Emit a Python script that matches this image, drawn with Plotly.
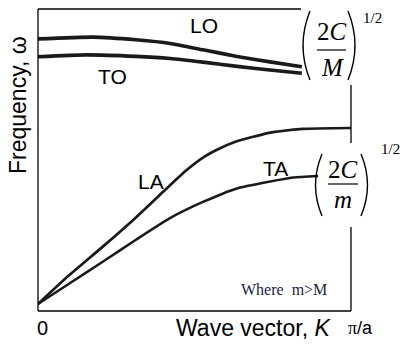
import plotly.graph_objects as go

# ---- data (K in units of pi/a, omega in relative units) ----
k_lo = [0.0, 0.176, 0.313, 0.422, 0.527, 0.636, 0.741, 0.843]
w_lo = [0.901, 0.907, 0.898, 0.886, 0.865, 0.843, 0.825, 0.809]

k_to = [0.0, 0.153, 0.313, 0.422, 0.527, 0.636, 0.741, 0.843]
w_to = [0.842, 0.848, 0.843, 0.836, 0.824, 0.810, 0.798, 0.787]

k_la = [0.0, 0.099, 0.208, 0.313, 0.399, 0.473, 0.527, 0.580, 0.633, 0.738, 0.847, 1.0]
w_la = [0.023, 0.118, 0.214, 0.310, 0.394, 0.465, 0.508, 0.538, 0.561, 0.590, 0.603, 0.606]

k_ta = [0.0, 0.099, 0.208, 0.313, 0.419, 0.527, 0.633, 0.738, 0.815, 0.895]
w_ta = [0.023, 0.090, 0.164, 0.236, 0.306, 0.361, 0.405, 0.428, 0.442, 0.447]

W, H = 408, 345
L, R, T, B = 38, 351, 9, 311


def fx(px):
    return (px - L) / (R - L)


def fy(py):
    return (B - py) / (B - T)


INK = "#1a1a1a"
SANS = "Liberation Sans, Arial, sans-serif"
SERIF = "Liberation Serif, Times New Roman, serif"

fig = go.Figure()
for k, w, lw in [(k_lo, w_lo, 3.6), (k_to, w_to, 3.6), (k_la, w_la, 2.7), (k_ta, w_ta, 2.5)]:
    fig.add_trace(go.Scatter(x=k, y=w, mode="lines",
                             line=dict(color=INK, width=lw, shape="spline", smoothing=0.5)))

shapes = []
box = dict(type="line", xref="paper", yref="paper", line=dict(color="black", width=1.3))
shapes.append(dict(box, x0=0, x1=0, y0=0, y1=1))
shapes.append(dict(box, x0=0, x1=1, y0=0, y1=0))
shapes.append(dict(box, x0=0, x1=fx(301), y0=1, y1=1))
shapes.append(dict(box, x0=1, x1=1, y0=fy(85), y1=fy(143)))
shapes.append(dict(box, x0=1, x1=1, y0=fy(227), y1=0))


def paren(x_tip, y0, y1, bulge):
    ym = (y0 + y1) / 2
    return dict(type="path", xref="paper", yref="paper",
                path=f"M {fx(x_tip)},{fy(y0)} Q {fx(x_tip + bulge)},{fy(ym)} {fx(x_tip)},{fy(y1)}",
                line=dict(color="black", width=1.4))


shapes.append(paren(310, 11, 80, -14))
shapes.append(paren(348, 11, 80, 14))
shapes.append(dict(box, x0=fx(317), x1=fx(346), y0=fy(50), y1=fy(50), line=dict(color="black", width=1.2)))
shapes.append(paren(322, 154, 216, -13))
shapes.append(paren(361, 154, 216, 13))
shapes.append(dict(box, x0=fx(328), x1=fx(358), y0=fy(184), y1=fy(184), line=dict(color="black", width=1.2)))

ann = []


def txt(s, px, py, size, family=SANS, color="black", angle=0, xanchor="center"):
    ann.append(dict(text=s, x=fx(px), y=fy(py), xref="paper", yref="paper", showarrow=False,
                    xanchor=xanchor, yanchor="middle", textangle=angle,
                    font=dict(size=size, family=family, color=color)))


txt("LO", 204, 26, 21)
txt("TO", 112, 76, 21)
txt("LA", 151, 182, 21)
txt("TA", 275, 168, 21)
txt("Frequency, ω", 18, 105, 23, angle=-90)
txt("Wave vector, <i>K</i>", 253, 328, 23)
txt("0", 42, 328, 20)
txt("<span style='font-family:Liberation Serif'>π</span>/a", 360, 328, 18)
txt("Where  m>M", 284, 289, 16, family=SERIF, color="#1c1c3c")
txt("2<i>C</i>", 332, 32, 25, family=SERIF)
txt("<i>M</i>", 332, 67, 25, family=SERIF)
txt("1/2", 372, 18, 15, family=SERIF)
txt("2<i>C</i>", 343, 169, 25, family=SERIF)
txt("<i>m</i>", 343, 199, 25, family=SERIF)
txt("1/2", 390, 149, 15, family=SERIF)

fig.update_layout(
    width=W, height=H,
    margin=dict(l=L, r=W - R, t=T, b=H - B),
    paper_bgcolor="white", plot_bgcolor="white",
    showlegend=False,
    xaxis=dict(range=[0, 1], visible=False, fixedrange=True),
    yaxis=dict(range=[0, 1], visible=False, fixedrange=True),
    shapes=shapes, annotations=ann,
)

fig.write_html("out.html", config={"displayModeBar": False})
